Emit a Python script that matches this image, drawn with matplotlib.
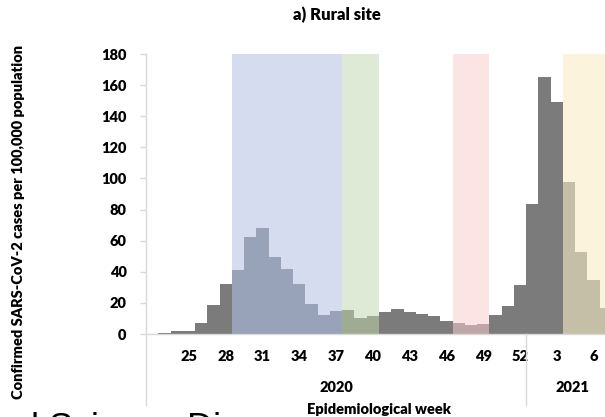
import matplotlib
matplotlib.use("Agg")
import matplotlib.pyplot as plt
import numpy as np

# ---- data ----
weeks_2020 = list(range(22, 53))
weeks_2021 = list(range(1, 8))
week_labels = [str(w) for w in weeks_2020 + weeks_2021]
cases = [0, 0.8, 1.8, 1.8, 6.8, 18.6, 32.3, 41, 62.3, 68, 49.2, 42, 32, 19.4,
         12.5, 14.6, 15.5, 10.6, 11.4, 14.3, 15.8, 14.3, 12.6, 11.6, 8.6, 6.9,
         5.8, 6.2, 12, 18.2, 31.5,
         83.5, 165, 149.3, 97.9, 52.9, 34.7, 16.5]
shown_ticks = ["25", "28", "31", "34", "37", "40", "43", "46", "49", "52", "3", "6"]
years = ["2020", "2021"]
# shaded periods: (first week, year idx, last week, year idx)
periods = [(29, 0, 37, 0), (38, 0, 40, 0), (47, 0, 49, 0), (4, 1, 7, 1)]
span_colors = ["#D6DCF0", "#DEEAD6", "#FDE4E4", "#FBF3DC"]
bar_tints = ["#98A3B9", "#9FAB92", "#C0A7A7", "#C6BFA8"]
grey = "#7B7B7B"
axis_grey = "#D9D9D9"

plt.rcParams['font.family'] = ['Lato', 'DejaVu Sans']
FW = 'heavy'

W, H = 605, 417
fig = plt.figure(figsize=(W / 100, H / 100), dpi=100)
x0, x1, y0, y1 = 146, 612, 334, 54
ax = fig.add_axes([x0 / W, (H - y0) / H, (x1 - x0) / W, (y0 - y1) / H])

n = len(cases)
x = np.arange(n)
all_weeks = [(w, 0) for w in weeks_2020] + [(w, 1) for w in weeks_2021]

def idx(week, yr):
    return all_weeks.index((week, yr))

colors = [grey] * n
for k, (wa, ya, wb, yb) in enumerate(periods):
    a, b = idx(wa, ya), idx(wb, yb)
    ax.axvspan(a - 0.5, b + 0.5, ymin=0, ymax=1, color=span_colors[k], lw=0, zorder=1)
    for i in range(a, b + 1):
        colors[i] = bar_tints[k]

ax.bar(x, cases, width=1.0, color=colors, linewidth=0, zorder=2)

ax.set_xlim(-0.5, n - 0.5)
ax.set_ylim(0, 180)
ax.set_yticks(range(0, 181, 20))
tick_pos = [idx(int(t), 0) if int(t) >= 22 else idx(int(t), 1) for t in shown_ticks]
ax.set_xticks(tick_pos)
ax.set_xticklabels(shown_ticks)

for s in ["top", "right"]:
    ax.spines[s].set_visible(False)
for s in ["left", "bottom"]:
    ax.spines[s].set_color(axis_grey)
    ax.spines[s].set_linewidth(1.0)
    ax.spines[s].set_zorder(3)

ax.tick_params(axis='y', length=4, width=1, color=axis_grey, pad=10,
               labelsize=10.5)
ax.tick_params(axis='x', length=0, pad=11.5, labelsize=10.5)
for lab in ax.get_xticklabels() + ax.get_yticklabels():
    lab.set_fontweight(FW)

# group separators
ext = -(405 - 334) / 280
for xs in [-0.5, len(weeks_2020) - 0.5, n - 0.5]:
    ax.plot([xs, xs], [0, ext], transform=ax.get_xaxis_transform(),
            color=axis_grey, lw=1, clip_on=False, zorder=3)

yy = -(387 - 334) / 280
ax.text((len(weeks_2020) - 1) / 2, yy, years[0], transform=ax.get_xaxis_transform(),
        ha='center', va='center', fontsize=10.5, fontweight=FW)
ax.text(len(weeks_2020) + (len(weeks_2021) - 1) / 2 + 0.3, yy, years[1],
        transform=ax.get_xaxis_transform(),
        ha='center', va='center', fontsize=10.5, fontweight=FW)

ax.text(0.5, -(409 - 334) / 280, "Epidemiological week", transform=ax.transAxes,
        ha='center', va='center', fontsize=10.5, fontweight=FW)

fig.text(337 / W, (H - 15) / H, "a) Rural site", ha='center', va='center',
         fontsize=12, fontweight=FW)
fig.text(18.5 / W, (H - 222) / H, "Confirmed SARS-CoV-2 cases per 100,000 population",
         rotation=90, ha='center', va='center', fontsize=10.5, fontweight=FW)

# cropped text from page below
fig.text(11 / W, (H - 439) / H, "al Science Di", ha='left', va='baseline',
         fontsize=26, family=['Liberation Sans'], color='black')

fig.savefig("out.png", dpi=100)
